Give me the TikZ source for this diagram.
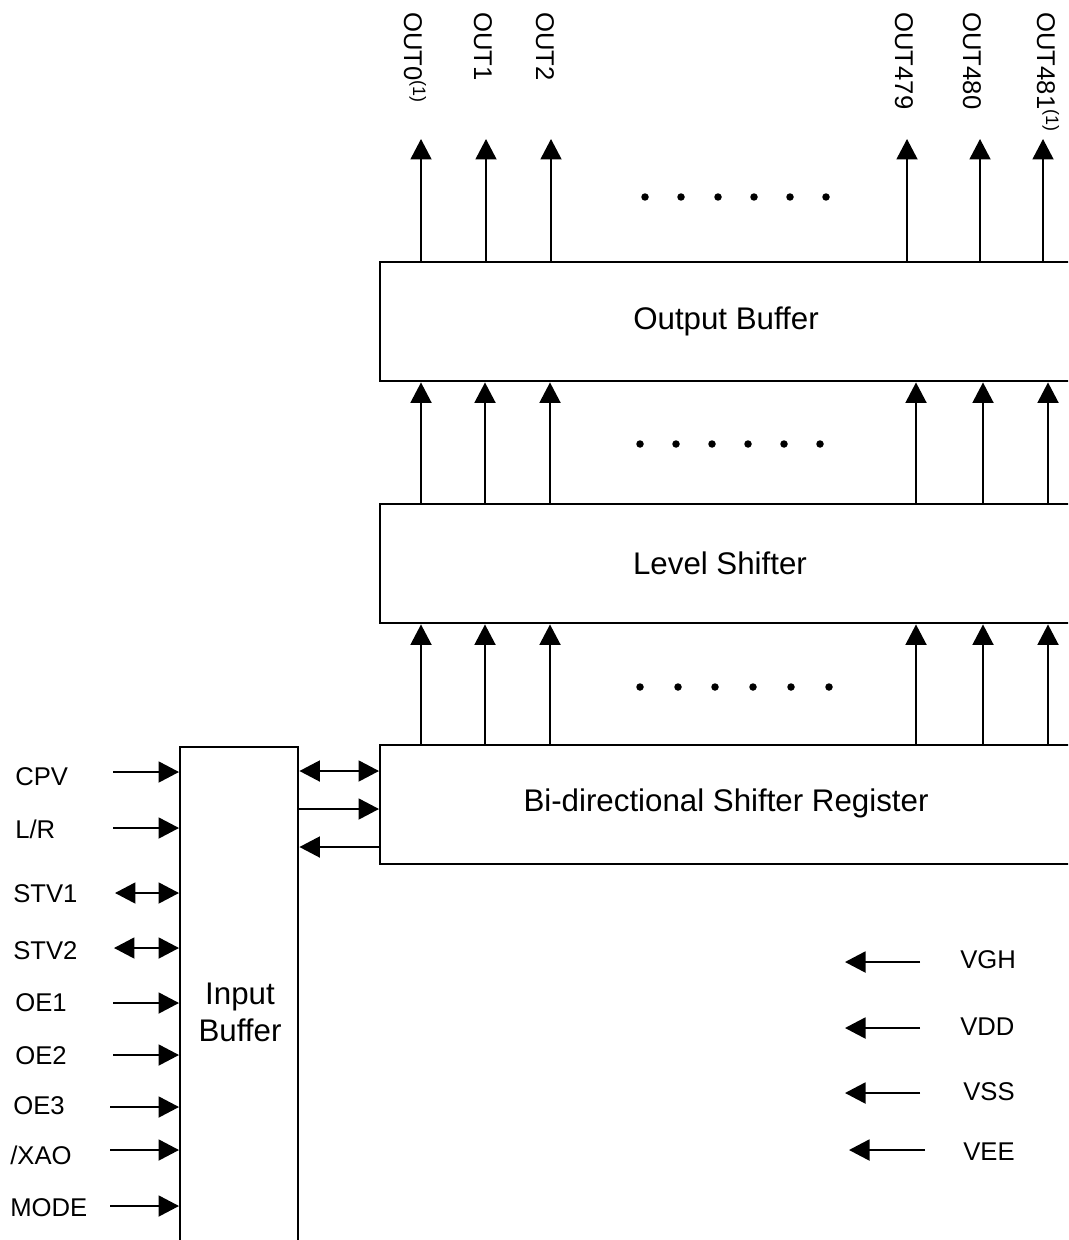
\documentclass[tikz,border=0pt]{standalone}
\usepackage{fontspec}
\setmainfont{Liberation Sans}
\usetikzlibrary{arrows.meta}
\begin{document}
\begin{tikzpicture}[x=0.02cm,y=-0.02cm,
  arr/.style={line width=1.1pt, -{Triangle[length=0.41cm,width=0.42cm]}},
  darr/.style={line width=1.1pt, {Triangle[length=0.41cm,width=0.42cm]}-{Triangle[length=0.41cm,width=0.42cm]}},
  blk/.style={draw, line width=1.4pt, anchor=north west, inner sep=0pt},
  pin/.style={font=\fontsize{14.6}{17}\selectfont, anchor=west, inner sep=0pt},
  outl/.style={font=\fontsize{14.6}{17}\selectfont, rotate=-90, anchor=base west, inner sep=0pt},
  lbl/.style={font=\fontsize{17.8}{21}\selectfont, inner sep=0pt},
  dotn/.style={circle, fill, inner sep=0pt, minimum size=0.15cm}
]
\useasboundingbox (0,0) rectangle (1068,1240);
\clip (0,0) rectangle (1068,1240);

% blocks
\node[blk, minimum width=14.4cm, minimum height=2.38cm] (ob) at (379,261) {};
\node[blk, minimum width=14.4cm, minimum height=2.38cm] (ls) at (379,503) {};
\node[blk, minimum width=14.4cm, minimum height=2.38cm] (br) at (379,744) {};
\node[blk, minimum width=2.36cm, minimum height=10.6cm] (ib) at (179,746) {};

\node[lbl] (obl) at (726,321) {Output Buffer};
\node[lbl] (lsl) at (720,563) {Level Shifter};
\node[lbl] (brl) at (726,803) {Bi-directional Shifter Register};
\node[lbl, align=center] (ibl) at (240,1012) {Input\\Buffer};

% output labels
\node[outl] (o0l) at (404,12) {OUT0\textsuperscript{(1)}};
\node[outl] (o1l) at (474,12) {OUT1};
\node[outl] (o2l) at (536,12) {OUT2};
\node[outl] (o3l) at (895,12) {OUT479};
\node[outl] (o4l) at (963,12) {OUT480};
\node[outl] (o5l) at (1037,12) {OUT481\textsuperscript{(1)}};

% top arrows
\coordinate (t1) at (421,139);
\coordinate (t2) at (486,139);
\coordinate (t3) at (551,139);
\coordinate (t4) at (907,139);
\coordinate (t5) at (980,139);
\coordinate (t6) at (1043,139);
\foreach \c in {t1,t2,t3,t4,t5,t6} \draw[arr] (\c |- ob.north) -- (\c);

% middle arrows
\coordinate (m1) at (421,0);
\coordinate (m2) at (485,0);
\coordinate (m3) at (550,0);
\coordinate (m4) at (916,0);
\coordinate (m5) at (983,0);
\coordinate (m6) at (1048,0);
\foreach \c in {m1,m2,m3,m4,m5,m6} \draw[arr] (\c |- ls.north) -- (\c |- ob.south);

% bottom arrows
\coordinate (b1) at (421,0);
\coordinate (b2) at (485,0);
\coordinate (b3) at (550,0);
\coordinate (b4) at (916,0);
\coordinate (b5) at (983,0);
\coordinate (b6) at (1048,0);
\foreach \c in {b1,b2,b3,b4,b5,b6} \draw[arr] (\c |- br.north) -- (\c |- ls.south);

% dots
\foreach \x [count=\i] in {645,681,718,754,790,826} \node[dotn] (dt\i) at (\x,197) {};
\foreach \x [count=\i] in {640,676,712,748,784,820} \node[dotn] (dm\i) at (\x,444) {};
\foreach \x [count=\i] in {640,678,715,753,791,829} \node[dotn] (db\i) at (\x,687) {};

% input buffer <-> shift register
\coordinate (c1) at (0,771);
\coordinate (c2) at (0,809);
\coordinate (c3) at (0,847);
\draw[darr] (ib.east |- c1) -- (br.west |- c1);
\draw[arr] (ib.east |- c2) -- (br.west |- c2);
\draw[arr] (br.west |- c3) -- (ib.east |- c3);

% left pins
\node[pin] (cpv) at (15,777) {CPV};
\node[pin] (lr) at (15,829) {L/R};
\node[pin] (stv1) at (13,894) {STV1};
\node[pin] (stv2) at (13,951) {STV2};
\node[pin] (oe1) at (15,1003) {OE1};
\node[pin] (oe2) at (15,1056) {OE2};
\node[pin] (oe3) at (13,1106) {OE3};
\node[pin] (xao) at (10,1155) {/XAO};
\node[pin] (mode) at (10,1208) {MODE};

\coordinate (pcpv) at (113,772);
\coordinate (plr) at (113,828);
\coordinate (pstv1) at (115,893);
\coordinate (pstv2) at (114,948);
\coordinate (poe1) at (113,1003);
\coordinate (poe2) at (113,1055);
\coordinate (poe3) at (110,1107);
\coordinate (pxao) at (110,1150);
\coordinate (pmode) at (110,1206);
\foreach \c in {pcpv,plr,poe1,poe2,poe3,pxao,pmode} \draw[arr] (\c) -- (\c -| ib.west);
\foreach \c in {pstv1,pstv2} \draw[darr] (\c) -- (\c -| ib.west);

% power pins
\node[pin] (vgh) at (960,960) {VGH};
\node[pin] (vdd) at (960,1027) {VDD};
\node[pin] (vss) at (963,1092) {VSS};
\node[pin] (vee) at (963,1152) {VEE};
\coordinate (vghs) at (920,962);  \coordinate (vghe) at (845,962);
\coordinate (vdds) at (920,1028); \coordinate (vdde) at (845,1028);
\coordinate (vsss) at (920,1093); \coordinate (vsse) at (845,1093);
\coordinate (vees) at (925,1150); \coordinate (veee) at (849,1150);
\draw[arr] (vghs) -- (vghe);
\draw[arr] (vdds) -- (vdde);
\draw[arr] (vsss) -- (vsse);
\draw[arr] (vees) -- (veee);
\end{tikzpicture}
\end{document}
